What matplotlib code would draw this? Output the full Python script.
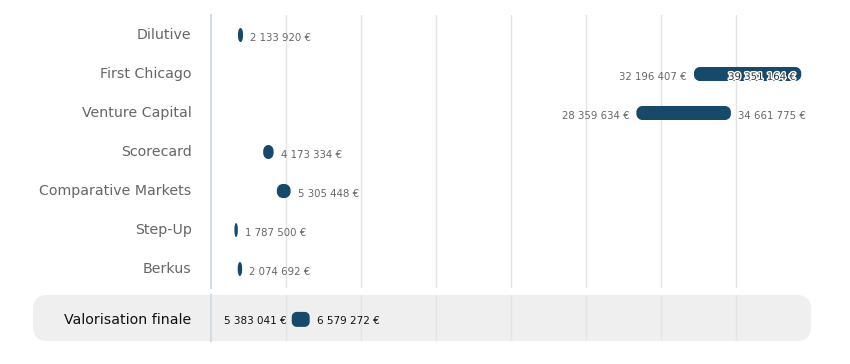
import matplotlib
matplotlib.use("Agg")
import matplotlib.pyplot as plt
import matplotlib.patheffects as pe
from matplotlib.patches import PathPatch, FancyBboxPatch
from matplotlib.path import Path

plt.rcParams["font.family"] = "DejaVu Sans"

# DATA
categories = ["Dilutive", "First Chicago", "Venture Capital", "Scorecard",
              "Comparative Markets", "Step-Up", "Berkus"]
low_values = [1_800_000, 32_196_407, 28_359_634, 3_480_000, 4_390_000, 1_560_000, 1_780_000]
high_values = [2_133_920, 39_351_164, 34_661_775, 4_173_334, 5_305_448, 1_787_500, 2_074_692]
show_low_label = [False, True, True, False, False, False, False]
final_label = "Valorisation finale"
final_low = 5_383_041
final_high = 6_579_272

BAR = "#17496a"
GREY_TXT = "#666666"
X_MAX = 40_000_000


def fmt(v):
    return f"{v:,.0f}".replace(",", " ") + " €"


def rounded_bar(ax, x0, x1, yc, h_px=14, r_px=6, color=BAR):
    # rounded rectangle drawn in data coords, corners sized in pixels
    bb = ax.get_window_extent()
    xl, yl = ax.get_xlim(), ax.get_ylim()
    xpp = (xl[1] - xl[0]) / bb.width
    ypp = abs(yl[1] - yl[0]) / bb.height
    w_px = (x1 - x0) / xpp
    rx = min(r_px, w_px / 2) * xpp
    ry = min(r_px, h_px / 2) * ypp
    ya, yb = yc - h_px / 2 * ypp, yc + h_px / 2 * ypp
    k = 0.5523
    verts = [(x0 + rx, ya), (x1 - rx, ya),
             (x1 - rx + k * rx, ya), (x1, ya + ry - k * ry), (x1, ya + ry),
             (x1, yb - ry),
             (x1, yb - ry + k * ry), (x1 - rx + k * rx, yb), (x1 - rx, yb),
             (x0 + rx, yb),
             (x0 + rx - k * rx, yb), (x0, yb - ry + k * ry), (x0, yb - ry),
             (x0, ya + ry),
             (x0, ya + ry - k * ry), (x0 + rx - k * rx, ya), (x0 + rx, ya),
             (x0 + rx, ya)]
    codes = [Path.MOVETO, Path.LINETO] + [Path.CURVE4] * 3 + [Path.LINETO] + \
            [Path.CURVE4] * 3 + [Path.LINETO] + [Path.CURVE4] * 3 + [Path.LINETO] + \
            [Path.CURVE4] * 3 + [Path.CLOSEPOLY]
    ax.add_patch(PathPatch(Path(verts, codes), facecolor=color, edgecolor="none", zorder=3))


def style_axis(ax):
    ax.set_facecolor("none")
    ax.set_xlim(0, X_MAX)
    ax.set_xticks(range(5_000_000, X_MAX, 5_000_000))
    ax.grid(axis="x", color="#e4e4e4", linewidth=1)
    ax.tick_params(axis="x", length=0, labelbottom=False)
    ax.tick_params(axis="y", length=0, pad=14)
    for s in ["top", "right", "bottom"]:
        ax.spines[s].set_visible(False)
    ax.spines["left"].set_color("#d3dae8")
    ax.spines["left"].set_linewidth(1.5)
    ax.set_axisbelow(True)


fig = plt.figure(figsize=(8.5, 3.64), dpi=100)

# grey band behind final row
band = FancyBboxPatch((33 / 850, 1 - 341 / 364), (811 - 33) / 850, 46 / 364,
                      boxstyle="round,pad=0,rounding_size=0.017",
                      mutation_aspect=850 / 364, transform=fig.transFigure,
                      facecolor="#efefef", edgecolor="none", zorder=-5)
fig.patches.append(band)

ax = fig.add_axes([211 / 850, 1 - 288 / 364, 600 / 850, 273 / 364])
style_axis(ax)
ax.set_ylim(6.487, -0.513)
ax.set_yticks(range(len(categories)))
ax.set_yticklabels(categories, fontsize=10.2, color=GREY_TXT, va="center")

for i, (lo, hi) in enumerate(zip(low_values, high_values)):
    rounded_bar(ax, lo, hi, i)
    if show_low_label[i]:
        ax.annotate(fmt(lo), (lo, i), xytext=(-5, -2), textcoords="offset points",
                    ha="right", va="center", fontsize=7.3, color=GREY_TXT)
    if hi > 0.92 * X_MAX:
        ax.annotate(fmt(hi), (hi, i), xytext=(-4, -2), textcoords="offset points",
                    ha="right", va="center", fontsize=7.3, color="#333333",
                    path_effects=[pe.withStroke(linewidth=2, foreground="white")], zorder=4)
    else:
        ax.annotate(fmt(hi), (hi, i), xytext=(5, -2), textcoords="offset points",
                    ha="left", va="center", fontsize=7.3, color=GREY_TXT)

ax2 = fig.add_axes([211 / 850, 1 - 341 / 364, 600 / 850, 46 / 364])
style_axis(ax2)
ax2.set_ylim(0.5, -0.5)
ax2.set_yticks([0])
ax2.set_yticklabels([final_label], fontsize=10.2, color="#111111")
rounded_bar(ax2, final_low, final_high, 0.03, h_px=15, r_px=5)
ax2.annotate(fmt(final_low), (final_low, 0), xytext=(-4, -2), textcoords="offset points",
             ha="right", va="center", fontsize=7.5, color="#111111")
ax2.annotate(fmt(final_high), (final_high, 0), xytext=(5, -2), textcoords="offset points",
             ha="left", va="center", fontsize=7.5, color="#111111")

fig.savefig("out.png", dpi=100)
